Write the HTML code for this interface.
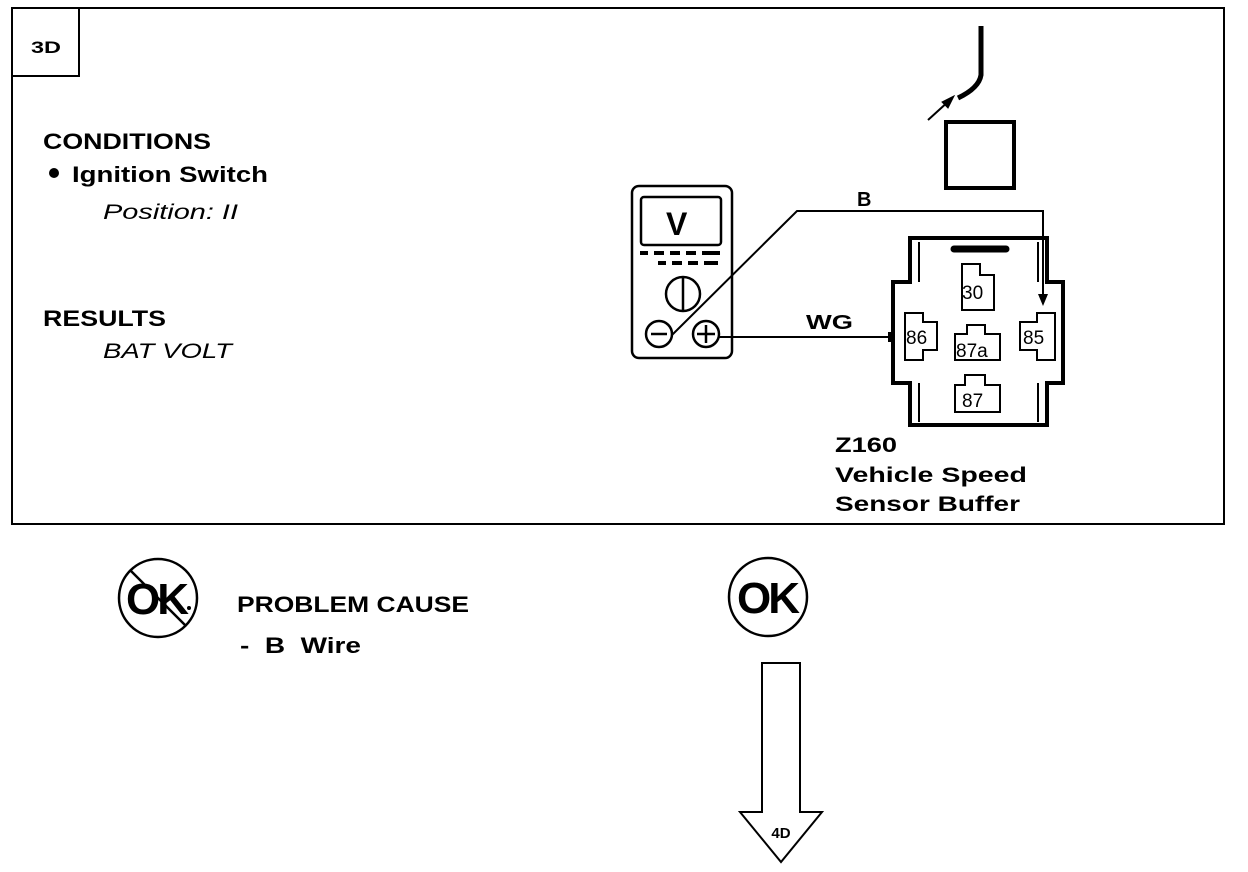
<!DOCTYPE html>
<html><head><meta charset="utf-8"><style>
html,body{margin:0;padding:0;background:#fff;}
svg{display:block}
text{font-family:"Liberation Sans",sans-serif;fill:#000}
</style></head><body>
<svg width="1248" height="872" viewBox="0 0 1248 872" xmlns="http://www.w3.org/2000/svg">
<g fill="none" stroke="#000">
<rect x="12" y="8" width="1212" height="516" stroke-width="2"/>
<rect x="12" y="8" width="67" height="68" stroke-width="2"/>
</g>
<text x="31" y="53" font-size="17" font-weight="bold" textLength="30" lengthAdjust="spacingAndGlyphs">3D</text>
<text x="43" y="149" font-size="22" font-weight="bold" textLength="168" lengthAdjust="spacingAndGlyphs">CONDITIONS</text>
<circle cx="54" cy="173" r="5" fill="#000"/>
<text x="72" y="182" font-size="22" font-weight="bold" textLength="196" lengthAdjust="spacingAndGlyphs">Ignition Switch</text>
<text x="103" y="219" font-size="21" font-style="italic" textLength="135" lengthAdjust="spacingAndGlyphs">Position: II</text>
<text x="43" y="326" font-size="22" font-weight="bold" textLength="123" lengthAdjust="spacingAndGlyphs">RESULTS</text>
<text x="103" y="358" font-size="21" font-style="italic" textLength="129" lengthAdjust="spacingAndGlyphs">BAT VOLT</text>

<g fill="none" stroke="#000">
<path d="M981 26 L981 75 Q979 88 958 98" stroke-width="5"/>
<line x1="928" y1="120" x2="950" y2="100" stroke-width="2"/>
<polygon points="954,96 942,102 948,108" fill="#000" stroke-width="1"/>
<rect x="946" y="122" width="68" height="66" stroke-width="4"/>
</g>

<g fill="none" stroke="#000" stroke-width="2.5">
<rect x="632" y="186" width="100" height="172" rx="7"/>
<rect x="641" y="197" width="80" height="48" rx="3"/>
<circle cx="683" cy="294" r="17"/>
<line x1="683" y1="277" x2="683" y2="311"/>
<circle cx="659" cy="334" r="13"/>
<line x1="651" y1="334" x2="667" y2="334"/>
<circle cx="706" cy="334" r="13"/>
<line x1="697" y1="334" x2="715" y2="334"/><line x1="706" y1="325" x2="706" y2="343"/>
</g>
<text x="666" y="235" font-size="32" font-weight="bold">V</text>
<g stroke="#000" stroke-width="4">
<line x1="640" y1="253" x2="648" y2="253"/><line x1="654" y1="253" x2="664" y2="253"/><line x1="670" y1="253" x2="680" y2="253"/><line x1="686" y1="253" x2="696" y2="253"/><line x1="702" y1="253" x2="720" y2="253"/>
<line x1="658" y1="263" x2="666" y2="263"/><line x1="672" y1="263" x2="682" y2="263"/><line x1="688" y1="263" x2="698" y2="263"/><line x1="704" y1="263" x2="718" y2="263"/>
</g>

<g fill="none" stroke="#000" stroke-width="2">
<polyline points="672,335 797,211 1043,211 1043,296"/>
<line x1="719" y1="337" x2="890" y2="337"/>
</g>
<polygon points="1038,294 1048,294 1043,306" fill="#000"/>
<rect x="888" y="332" width="6" height="10" fill="#000"/>
<text x="857" y="206" font-size="20" font-weight="bold">B</text>
<text x="806" y="329" font-size="20" font-weight="bold" textLength="47" lengthAdjust="spacingAndGlyphs">WG</text>

<g fill="none" stroke="#000">
<path d="M910 238 L1047 238 L1047 282 L1063 282 L1063 383 L1047 383 L1047 425 L910 425 L910 383 L893 383 L893 282 L910 282 Z" stroke-width="4"/>
<path d="M919 242 L919 282 M1038 242 L1038 282 M919 383 L919 422 M1038 383 L1038 422" stroke-width="2"/>
<path d="M954 249 L1006 249" stroke-width="7" stroke-linecap="round"/>
<g stroke-width="2">
<path d="M962 264 L980 264 L980 275 L994 275 L994 310 L962 310 Z"/>
<path d="M905 313 L923 313 L923 322 L937 322 L937 350 L923 350 L923 360 L905 360 Z"/>
<path d="M967 325 L985 325 L985 334 L1000 334 L1000 360 L955 360 L955 334 L967 334 Z"/>
<path d="M1037 313 L1055 313 L1055 360 L1037 360 L1037 350 L1020 350 L1020 322 L1037 322 Z"/>
<path d="M965 375 L985 375 L985 385 L1000 385 L1000 412 L955 412 L955 385 L965 385 Z"/>
</g>
</g>
<text x="962" y="299" font-size="19">30</text>
<text x="906" y="344" font-size="19">86</text>
<text x="956" y="357" font-size="19">87a</text>
<text x="1023" y="344" font-size="19">85</text>
<text x="962" y="407" font-size="19">87</text>
<text x="835" y="452" font-size="21" font-weight="bold" textLength="62" lengthAdjust="spacingAndGlyphs">Z160</text>
<text x="835" y="482" font-size="21" font-weight="bold" textLength="192" lengthAdjust="spacingAndGlyphs">Vehicle Speed</text>
<text x="835" y="511" font-size="21" font-weight="bold" textLength="185" lengthAdjust="spacingAndGlyphs">Sensor Buffer</text>

<g fill="none" stroke="#000" stroke-width="2.5">
<circle cx="158" cy="598" r="39"/>
<circle cx="768" cy="597" r="39"/>
<polygon points="762,663 800,663 800,812 822,812 781,862 740,812 762,812" stroke-width="2"/>
</g>
<text x="156" y="614" font-size="44" font-weight="bold" text-anchor="middle" letter-spacing="-3">OK</text>
<circle cx="189" cy="608" r="2" fill="#000"/>
<line x1="130" y1="570" x2="186" y2="626" stroke="#000" stroke-width="2.5"/>
<text x="767" y="613" font-size="44" font-weight="bold" text-anchor="middle" letter-spacing="-3">OK</text>
<text x="237" y="612" font-size="22" font-weight="bold" textLength="232" lengthAdjust="spacingAndGlyphs">PROBLEM CAUSE</text>
<text x="240" y="653" font-size="22" font-weight="bold" xml:space="preserve" textLength="121" lengthAdjust="spacingAndGlyphs">-  B  Wire</text>
<text x="781" y="838" font-size="15" font-weight="bold" text-anchor="middle">4D</text>
</svg>
</body></html>
